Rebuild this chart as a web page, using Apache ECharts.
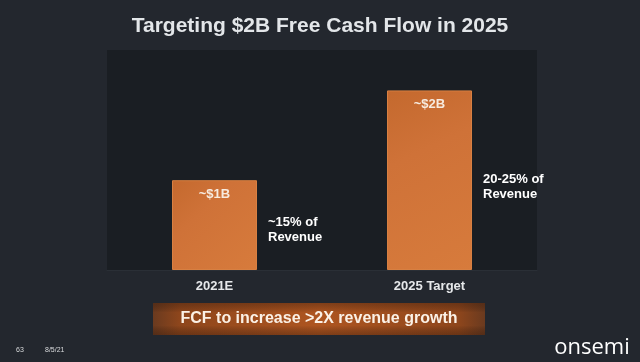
<!DOCTYPE html>
<html>
<head>
<meta charset="utf-8">
<script src="https://cdn.jsdelivr.net/npm/echarts@6/dist/echarts.min.js"></script>
<style>
html,body{margin:0;padding:0;background:#23272e;}
#c{width:640px;height:362px;}
</style>
</head>
<body>
<div id="c"></div>
<script>
var titleText = 'Targeting $2B Free Cash Flow in 2025';
var categories = ['2021E', '2025 Target'];
var values = [1, 2];
var valueLabels = ['~$1B', '~$2B'];
var sideNotes = ['~15% of\nRevenue', '20-25% of\nRevenue'];
var sideNoteLevels = [0.45, 0.93];
var bannerText = 'FCF to increase >2X revenue growth';
var footerPage = '63';
var footerDate = '8/5/21';
var brand = 'onsemi';

var chart = echarts.init(document.getElementById('c'), null, {renderer: 'canvas'});
var FONT = '"Liberation Sans", Arial, sans-serif';

var barColor = new echarts.graphic.LinearGradient(0, 0, 1, 1, [
  {offset: 0, color: '#c4692e'},
  {offset: 0.35, color: '#cf7238'},
  {offset: 1, color: '#d77b3c'}
]);

var option = {
  backgroundColor: '#23272e',
  animation: false,
  title: {
    text: titleText,
    left: 'center',
    top: 11,
    textStyle: {color: '#e3e6e9', fontSize: 21, fontWeight: 'bold', fontFamily: FONT}
  },
  grid: {
    left: 107, right: 103, top: 50, bottom: 92,
    show: true, backgroundColor: '#1a1e23', borderWidth: 0
  },
  xAxis: {
    type: 'category',
    data: categories,
    axisLine: {show: true, lineStyle: {color: '#2a2f36', width: 1}},
    axisTick: {show: false},
    axisLabel: {color: '#e6e8ea', fontSize: 13, fontWeight: 'bold', fontFamily: FONT, margin: 10}
  },
  yAxis: {
    type: 'value', min: 0, max: 2.45,
    show: false, splitLine: {show: false}
  },
  series: [{
    type: 'bar',
    data: values,
    barWidth: 85,
    itemStyle: {color: barColor, borderColor: '#d88042', borderWidth: 1},
    label: {
      show: true,
      position: 'insideTop',
      distance: 8,
      formatter: function (p) { return valueLabels[p.dataIndex]; },
      color: '#f7ebdf', fontSize: 13, fontWeight: 'bold', fontFamily: FONT
    }
  }]
};
chart.setOption(option);

function buildGraphics() {
  var g = [];
  for (var i = 0; i < categories.length; i++) {
    var p = chart.convertToPixel({seriesIndex: 0}, [i, sideNoteLevels[i]]);
    g.push({
      type: 'text',
      x: p[0] + 42.5 + 11,
      y: p[1],
      style: {
        text: sideNotes[i], fill: '#ffffff', font: 'bold 13px ' + FONT,
        lineHeight: 15, textVerticalAlign: 'middle', verticalAlign: 'middle'
      }
    });
  }
  g.push({
    type: 'rect',
    shape: {x: 153, y: 303, width: 332, height: 32},
    style: {
      fill: new echarts.graphic.LinearGradient(0, 0, 1, 0, [
        {offset: 0, color: '#6a3a1f'},
        {offset: 0.08, color: '#8e461c'},
        {offset: 0.5, color: '#ae5520'},
        {offset: 0.92, color: '#8e461c'},
        {offset: 1, color: '#6a3a1f'}
      ])
    }
  });
  g.push({
    type: 'rect',
    shape: {x: 153, y: 303, width: 332, height: 32},
    style: {
      fill: new echarts.graphic.LinearGradient(0, 0, 0, 1, [
        {offset: 0, color: 'rgba(40,20,10,0.35)'},
        {offset: 0.3, color: 'rgba(0,0,0,0)'},
        {offset: 0.7, color: 'rgba(0,0,0,0)'},
        {offset: 1, color: 'rgba(40,20,10,0.35)'}
      ])
    }
  });
  g.push({
    type: 'text', x: 319, y: 319,
    style: {
      text: bannerText, fill: '#fbf1e6', font: 'bold 16px ' + FONT,
      textAlign: 'center', align: 'center', textVerticalAlign: 'middle', verticalAlign: 'middle'
    }
  });
  g.push({
    type: 'text', x: 16, y: 350,
    style: {text: footerPage, fill: '#d8dadc', font: '7px ' + FONT, verticalAlign: 'middle', textVerticalAlign: 'middle'}
  });
  g.push({
    type: 'text', x: 45, y: 350,
    style: {text: footerDate, fill: '#d8dadc', font: '7px ' + FONT, verticalAlign: 'middle', textVerticalAlign: 'middle'}
  });
  g.push({
    type: 'text', x: 592, y: 348,
    style: {
      text: brand, fill: '#ffffff', font: '500 22px "Open Sans", Inter, sans-serif',
      align: 'center', textAlign: 'center', verticalAlign: 'middle', textVerticalAlign: 'middle'
    }
  });
  chart.setOption({graphic: g});
}
buildGraphics();
</script>
</body>
</html>
